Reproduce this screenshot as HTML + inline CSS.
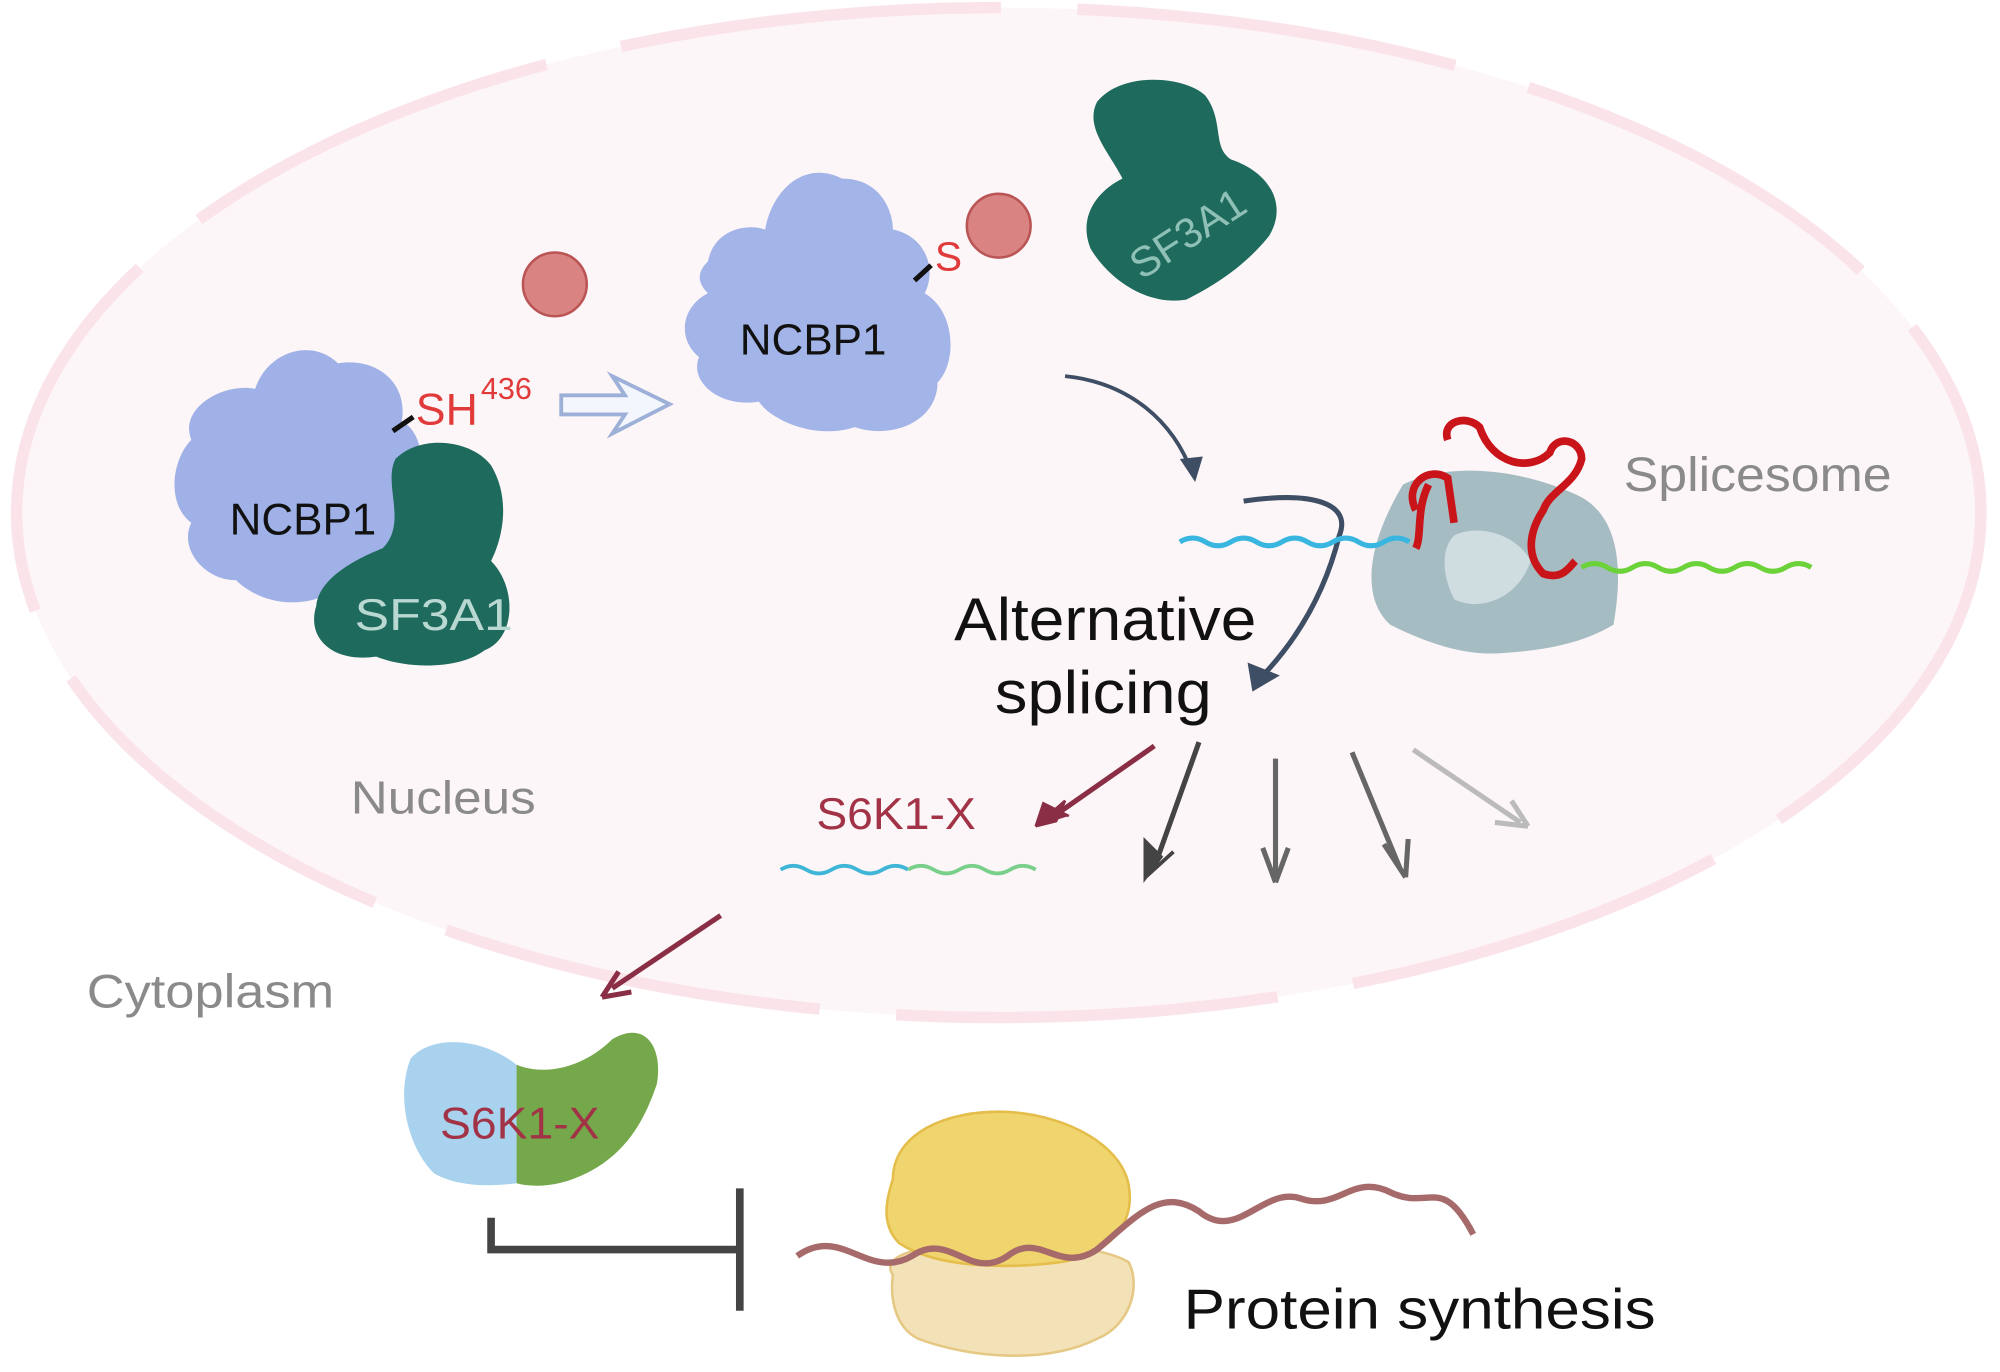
<!DOCTYPE html>
<html><head><meta charset="utf-8"><style>
html,body{margin:0;padding:0;background:#fff;}
svg{display:block;}
text{font-family:"Liberation Sans",sans-serif;}
</style></head><body>
<svg width="2000" height="1372" viewBox="0 0 1568 1076" preserveAspectRatio="none" xmlns="http://www.w3.org/2000/svg">
<rect width="1568" height="1076" fill="#fff"/>
<ellipse cx="783" cy="402" rx="770" ry="396" fill="#fdf6f8" stroke="#fbe3ea" stroke-width="9" stroke-dasharray="300 60"/>

<!-- left NCBP1 + SF3A1 -->
<path d="M150,345 C140,320 175,300 200,305 C210,275 245,265 265,285 C295,280 320,300 315,330 C340,345 330,390 315,410 C320,440 290,470 260,465 C230,480 200,470 185,455 C160,455 140,430 150,410 C130,395 135,360 150,345Z" fill="#9fb1e6"/>
<path d="M310,360 C330,340 370,345 385,365 C400,390 395,420 385,440 C405,460 405,500 380,510 C360,525 320,525 295,515 C260,520 240,500 248,475 C250,455 275,440 300,430 C320,410 300,380 310,360Z" fill="#1e6a5d"/>
<line x1="308" y1="338" x2="324" y2="327" stroke="#111" stroke-width="4"/>
<text x="180" y="419" font-size="35" fill="#111" textLength="115" lengthAdjust="spacingAndGlyphs">NCBP1</text>
<text x="278" y="494" font-size="35" fill="#b9d8d2" textLength="124" lengthAdjust="spacingAndGlyphs">SF3A1</text>
<text x="326" y="333" font-size="35" fill="#e03a3a">SH</text>
<text x="377" y="313" font-size="24" fill="#e03a3a">436</text>
<circle cx="435" cy="223" r="25" fill="#d98383" stroke="#b55" stroke-width="2"/>
<path d="M440,310 L490,310 L480,295 L525,317 L480,340 L490,325 L440,325Z" fill="#f4f6fd" stroke="#9db0d8" stroke-width="3"/>

<!-- top NCBP1 -->
<path d="M555,205 C560,180 585,175 600,180 C605,150 630,125 660,140 C690,140 700,165 700,180 C725,185 735,210 725,230 C750,245 750,285 735,300 C735,330 700,345 670,335 C640,345 605,330 595,315 C565,320 540,300 548,280 C530,265 535,240 555,230 C545,220 548,212 555,205Z" fill="#a3b4e8"/>
<line x1="717" y1="220" x2="730" y2="208" stroke="#111" stroke-width="4"/>
<text x="580" y="278" font-size="34" fill="#111" textLength="115" lengthAdjust="spacingAndGlyphs">NCBP1</text>
<text x="733" y="212" font-size="32" fill="#e03a3a">S</text>
<circle cx="783" cy="177" r="25" fill="#d98383" stroke="#b55" stroke-width="2"/>

<!-- top SF3A1 -->
<path d="M860,80 C880,55 930,60 945,75 C960,95 950,115 965,125 C995,135 1010,160 995,185 C975,210 950,225 930,235 C900,240 870,220 855,195 C845,170 860,150 880,140 C870,120 850,100 860,80Z" fill="#1e6a5d"/>
<text x="0" y="0" font-size="33" fill="#8fc0b6" transform="translate(895,220) rotate(-33)">SF3A1</text>

<!-- arrows -->
<path d="M835,295 C885,300 920,330 935,372" fill="none" stroke="#3e4e64" stroke-width="3"/>
<path d="M925,360 L937,378 L943,358" fill="#3e4e64"/>
<path d="M975,393 C1030,385 1060,395 1050,420 C1040,460 1020,500 985,535" fill="none" stroke="#3e4e64" stroke-width="4"/>
<path d="M980,522 L983,540 L1000,530Z" fill="#3e4e64" stroke="#3e4e64" stroke-width="3"/>

<!-- splicesome -->
<path d="M1100,380 C1140,360 1200,370 1240,390 C1275,410 1270,460 1265,490 C1240,505 1210,510 1180,512 C1150,515 1120,505 1090,490 C1068,470 1070,430 1100,380Z" fill="#a6bcc3"/>
<path d="M1140,420 C1160,410 1190,420 1200,440 C1190,470 1160,480 1140,470 C1130,450 1130,430 1140,420Z" fill="#cfdde1"/>
<path d="M1110,400 C1100,380 1120,365 1135,375 L1140,410 M1135,345 C1130,330 1150,325 1160,335 C1170,365 1200,370 1215,355 C1220,340 1240,345 1240,360 C1235,380 1215,385 1210,400 C1200,415 1195,435 1210,450 C1225,455 1230,445 1235,440 M1120,380 C1110,400 1115,420 1110,430" fill="none" stroke="#c9141a" stroke-width="6"/>
<path d="M925,425 q10,-6 20,0 t20,0 t20,0 t20,0 t20,0 t20,0 t20,0 t20,0 t20,0" fill="none" stroke="#39b6e0" stroke-width="4"/>
<path d="M1240,445 q10,-6 20,0 t20,0 t20,0 t20,0 t20,0 t20,0 t20,0 t20,0 t20,0" fill="none" stroke="#6cd23a" stroke-width="4"/>
<text x="1273" y="385" font-size="38" fill="#8a8a8a" textLength="210" lengthAdjust="spacingAndGlyphs">Splicesome</text>

<text x="748" y="502" font-size="47" fill="#111" textLength="237" lengthAdjust="spacingAndGlyphs">Alternative</text>
<text x="780" y="559" font-size="47" fill="#111" textLength="170" lengthAdjust="spacingAndGlyphs">splicing</text>
<text x="275" y="638" font-size="36" fill="#8a8a8a" textLength="145" lengthAdjust="spacingAndGlyphs">Nucleus</text>
<text x="68" y="790" font-size="37" fill="#8a8a8a" textLength="194" lengthAdjust="spacingAndGlyphs">Cytoplasm</text>

<!-- splicing output arrows -->
<g stroke-width="4" fill="none">
<path d="M905,585 L822,643" stroke="#8a2e45"/>
<path d="M940,582 L905,680" stroke="#444"/>
<path d="M1000,595 L1000,688" stroke="#666"/>
<path d="M1060,590 L1098,682" stroke="#666"/>
<path d="M1108,588 L1192,645" stroke="#bbb"/>
<path d="M565,718 L480,775" stroke="#8a2e45"/>
</g>
<path d="M812,648 L835,628 L828,644Z M812,648 L818,630 L838,640" fill="#8a2e45" stroke="#8a2e45" stroke-width="2"/>
<path d="M898,688 L898,660 L910,672Z M898,688 L920,668" fill="#444" stroke="#444" stroke-width="3"/>
<path d="M1000,692 L990,665 M1000,692 L1010,665" stroke="#666" stroke-width="4"/>
<path d="M1102,688 L1085,662 M1102,688 L1104,658" stroke="#666" stroke-width="4"/>
<path d="M1198,648 L1172,645 M1198,648 L1185,628" stroke="#bbb" stroke-width="4"/>
<path d="M472,782 L495,778 M472,782 L485,762" stroke="#8a2e45" stroke-width="4"/>

<text x="640" y="650" font-size="35" fill="#a23347" textLength="125" lengthAdjust="spacingAndGlyphs">S6K1-X</text>
<path d="M612,682 q10,-6 20,0 t20,0 t20,0 t20,0 t20,0" fill="none" stroke="#3fb6d8" stroke-width="3"/>
<path d="M712,682 q10,-6 20,0 t20,0 t20,0 t20,0 t20,0" fill="none" stroke="#7ad08a" stroke-width="3"/>

<!-- S6K1-X protein -->
<path d="M405,835 C380,815 340,810 322,830 C310,860 320,900 340,920 C360,932 390,930 405,928Z" fill="#a9d2ef"/>
<path d="M405,835 C430,845 460,835 480,815 C505,800 520,820 515,850 C505,880 490,905 460,920 C440,930 420,932 405,928Z" fill="#74a84a"/>
<text x="345" y="893" font-size="35" fill="#a23347" textLength="125" lengthAdjust="spacingAndGlyphs">S6K1-X</text>

<!-- inhibition -->
<path d="M385,955 L385,980 L580,980" fill="none" stroke="#444" stroke-width="6"/>
<line x1="580" y1="932" x2="580" y2="1028" stroke="#444" stroke-width="6"/>

<!-- ribosome -->
<path d="M700,1000 C690,985 720,975 760,980 C800,975 860,975 885,990 C895,1010 885,1040 860,1050 C820,1070 760,1065 720,1050 C700,1040 698,1015 700,1000Z" fill="#f3e2b8" stroke="#e5c884" stroke-width="2"/>
<path d="M700,925 C700,890 740,870 790,872 C840,875 880,900 885,930 C890,960 870,985 830,990 C790,995 735,995 705,975 C690,960 695,940 700,925Z" fill="#f0d46e" stroke="#e4bd4a" stroke-width="2"/>
<path d="M625,985 C660,960 680,1005 715,985 C745,965 760,1005 790,985 C815,965 830,1000 860,980 C890,955 910,930 940,950 C970,975 990,930 1020,940 C1050,950 1060,920 1090,935 C1120,950 1130,920 1155,968" fill="none" stroke="#a76a6a" stroke-width="5"/>
<text x="928" y="1042" font-size="44" fill="#111" textLength="370" lengthAdjust="spacingAndGlyphs">Protein synthesis</text>
</svg>
</body></html>
